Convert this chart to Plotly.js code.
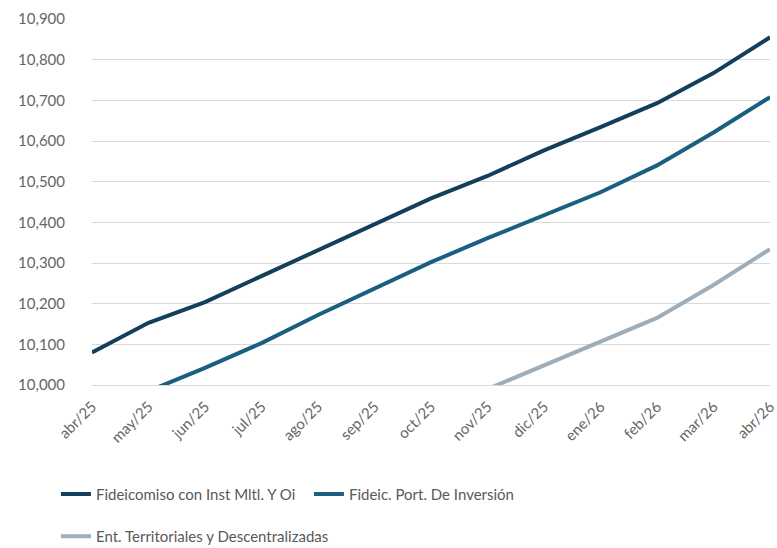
<!DOCTYPE html>
<html>
<head>
<meta charset="utf-8">
<script src="https://cdn.plot.ly/plotly-3.0.1.min.js"></script>
<style>html,body{margin:0;padding:0;background:#fff;}#chart{width:777px;height:548px;}</style>
</head>
<body>
<div id="chart"></div>
<script>
var months = ["abr/25","may/25","jun/25","jul/25","ago/25","sep/25","oct/25","nov/25","dic/25","ene/26","feb/26","mar/26","abr/26"];
var fideicomisoInst = [10080,10153,10204,10268,10332,10396,10459,10514,10577,10634,10693,10767,10855];
var fideicPort = [9925,9985,10042,10103,10172,10238,10302,10361,10418,10474,10540,10621,10708];
var entTerritoriales = [null,null,null,null,null,null,null,9990,10049,10106,10165,10246,10334];
var seriesNames = ["Fideicomiso con Inst Mltl. Y Oi","Fideic. Port. De Inversión","Ent. Territoriales y Descentralizadas"];
var yTicks = [10000,10100,10200,10300,10400,10500,10600,10700,10800,10900];

var colors = ["#123f5b","#1b5f80","#9dadba"];
var legends = ["legend","legend","legend2"];
var data = [fideicomisoInst, fideicPort, entTerritoriales].map(function(v,i){
  return {x: months, y: v, type: "scatter", mode: "lines", name: seriesNames[i],
    line: {color: colors[i], width: 4}, connectgaps: false, legend: legends[i]};
});

var legendFont = {family: "Lato, sans-serif", size: 15, color: "#595959"};
var layout = {
  width: 777, height: 548,
  margin: {l: 92, r: 7, t: 19, b: 163},
  paper_bgcolor: "#fff", plot_bgcolor: "#fff",
  font: {family: "Lato, sans-serif", color: "#666"},
  showlegend: true,
  legend: {orientation: "h", xref: "container", yref: "container", x: 0.072, y: 0.098, yanchor: "middle",
    font: legendFont, entrywidth: 208},
  legend2: {orientation: "h", xref: "container", yref: "container", x: 0.072, y: 0.021, yanchor: "middle",
    font: legendFont},
  xaxis: {type: "category", range: [0, 12.0001], tickangle: -45, showgrid: false, zeroline: false,
    showline: true, linecolor: "#d9d9d9", linewidth: 1,
    ticks: "", ticklabelstandoff: 6, tickfont: {size: 15, color: "#666"}},
  yaxis: {range: [10000, 10900], tickvals: yTicks, tickformat: ",d", showgrid: true, gridcolor: "#d9d9d9",
    gridwidth: 1, zeroline: false, ticks: "", ticklabelstandoff: 26, tickfont: {size: 15, color: "#666"}}
};
Plotly.newPlot("chart", data, layout, {displayModeBar: false, staticPlot: true});
</script>
</body>
</html>
